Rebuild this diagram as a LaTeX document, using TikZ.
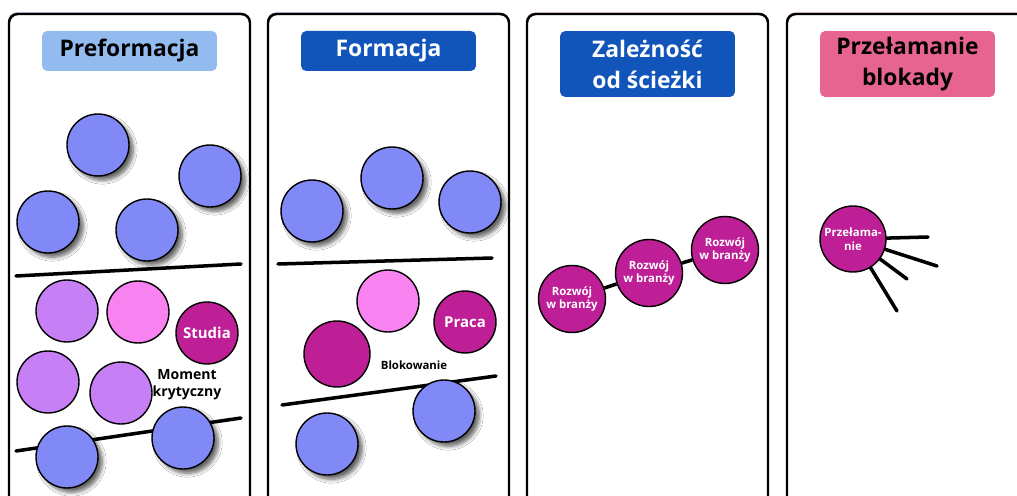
\documentclass[tikz,border=0pt]{standalone}
\usepackage{fontspec}
\setmainfont{Open Sans}
\usetikzlibrary{shadows.blur}

\definecolor{kNieb}{RGB}{128,137,245}
\definecolor{kFiolet}{RGB}{199,127,245}
\definecolor{kRoz}{RGB}{248,130,240}
\definecolor{kMagenta}{RGB}{190,30,150}
\definecolor{tJasny}{RGB}{147,187,239}
\definecolor{tCiemny}{RGB}{17,85,187}
\definecolor{tRoz}{RGB}{232,100,144}

\tikzset{
  panel/.style={draw=black, line width=1.4pt, rounded corners=5pt, fill=white},
  tytul/.style={rounded corners=3pt, minimum width=3.5cm, inner sep=0pt, align=center,
    font=\bfseries\fontsize{13}{17.5}\selectfont},
  kula/.style={circle, draw=black, line width=0.8pt, minimum size=1.24cm, inner sep=0pt,
    text=white, align=center},
  niebieska/.style={kula, fill=kNieb,
    blur shadow={shadow xshift=2.5pt, shadow yshift=-2.5pt, shadow blur steps=6, shadow opacity=60}},
  opis/.style={align=center, font=\bfseries\fontsize{8}{9.5}\selectfont},
  maly/.style={font=\bfseries\fontsize{6.5}{7.8}\selectfont},
  kreska/.style={line width=2pt, line cap=round},
}

\begin{document}
\begin{tikzpicture}[x=0.02cm, y=-0.02cm]
    \path[use as bounding box, clip] (0,0) rectangle (1017,496);

    % Panel 1: preformacja
    \begin{scope}[shift={(0,0)}]
        \fill[gray!70!blue!60, rounded corners=5pt] (8,12.5) rectangle (249,505);
        \path[panel] (9,14) rectangle (250,505);
        \node[tytul, fill=tJasny, minimum height=0.8cm] (t1) at (129.5,51) {Preformacja};

        % kule u gory
        \node[niebieska] (a1) at (98,145) {};
        \node[niebieska] (a2) at (210,176) {};
        \node[niebieska] (a3) at (48,222) {};
        \node[niebieska] (a4) at (147,230) {};

        % linia
        \coordinate (l1a) at (16,276);
        \coordinate (l1b) at (241,264);
        \draw[kreska] (l1a) -- (l1b);

        % kule srodkowe
        \node[kula, fill=kFiolet] (b1) at (67,311) {};
        \node[kula, fill=kRoz] (b2) at (138,312) {};
        \node[kula, fill=kMagenta, font=\bfseries\fontsize{8.5}{10}\selectfont] (studia) at (207,333) {Studia};
        \node[kula, fill=kFiolet] (b3) at (48,382) {};
        \node[kula, fill=kFiolet] (b4) at (121,393) {};
        \node[opis] (moment) at (187,385) {Moment\\krytyczny};

        % linia dolna
        \coordinate (l2a) at (16,451);
        \coordinate (l2b) at (241,418);
        \draw[kreska] (l2a) -- (l2b);
        \node[niebieska] (c1) at (67,457) {};
        \node[niebieska] (c2) at (183,438) {};
    \end{scope}

    % Panel 2: formacja
    \begin{scope}[shift={(259,0)}]
        \fill[gray!70!blue!60, rounded corners=5pt] (8,12.5) rectangle (249,505);
        \path[panel] (9,14) rectangle (250,505);
        \node[tytul, fill=tCiemny, text=white, minimum height=0.8cm] (t2) at (129.5,51) {Formacja};

        \node[niebieska] (d1) at (53,211) {};
        \node[niebieska] (d2) at (133,178) {};
        \node[niebieska] (d3) at (211,202) {};

        \coordinate (l3a) at (19,264);
        \coordinate (l3b) at (233,258);
        \draw[kreska] (l3a) -- (l3b);

        \node[kula, fill=kRoz] (e1) at (129,301) {};
        \node[kula, fill=kMagenta, font=\bfseries\fontsize{8.5}{10}\selectfont] (praca) at (206,322) {Praca};
        \node[kula, fill=kMagenta, minimum size=1.32cm] (e2) at (78,354) {};
        \node[maly] (blok) at (155,365) {Blokowanie};

        \coordinate (l4a) at (23,405);
        \coordinate (l4b) at (237,376);
        \draw[kreska] (l4a) -- (l4b);
        \node[niebieska] (f1) at (68,444) {};
        \node[niebieska] (f2) at (185,411) {};
    \end{scope}

    % Panel 3: zaleznosc od sciezki
    \begin{scope}[shift={(518,0)}]
        \fill[gray!60!red!40, rounded corners=5pt] (8,12.5) rectangle (249,505);
        \path[panel] (9,14) rectangle (250,505);
        \node[tytul, fill=tCiemny, text=white, minimum height=1.32cm] (t3) at (129.5,64) {Zależność\\od ścieżki};

        \node[kula, fill=kMagenta, minimum size=1.34cm, maly] (g1) at (54,299) {Rozwój\\w branży};
        \node[kula, fill=kMagenta, minimum size=1.34cm, maly] (g2) at (131,273) {Rozwój\\w branży};
        \node[kula, fill=kMagenta, minimum size=1.34cm, maly] (g3) at (207,250) {Rozwój\\w branży};
        \draw[kreska, line cap=butt] (g1) -- (g2);
        \draw[kreska, line cap=butt] (g2) -- (g3);
    \end{scope}

    % Panel 4: przelamanie blokady
    \begin{scope}[shift={(778,0)}]
        \fill[gray!60!red!40, rounded corners=5pt] (8,12.5) rectangle (249,505);
        \path[panel] (9,14) rectangle (250,505);
        \node[tytul, fill=tRoz, minimum height=1.32cm] (t4) at (129.5,64) {Przełamanie\\blokady};

        % promienie
        \coordinate (p1) at (150,237);
        \coordinate (p2) at (159,266);
        \coordinate (p3) at (129,279);
        \coordinate (p4) at (119,311);
        \node[kula, fill=kMagenta, minimum size=1.32cm, maly] (brk) at (75,239) {Przełama-\\nie};
        \draw[kreska] (brk) -- (p1);
        \draw[kreska] (brk) -- (p2);
        \draw[kreska] (brk) -- (p3);
        \draw[kreska] (brk) -- (p4);
    \end{scope}
\end{tikzpicture}
\end{document}
